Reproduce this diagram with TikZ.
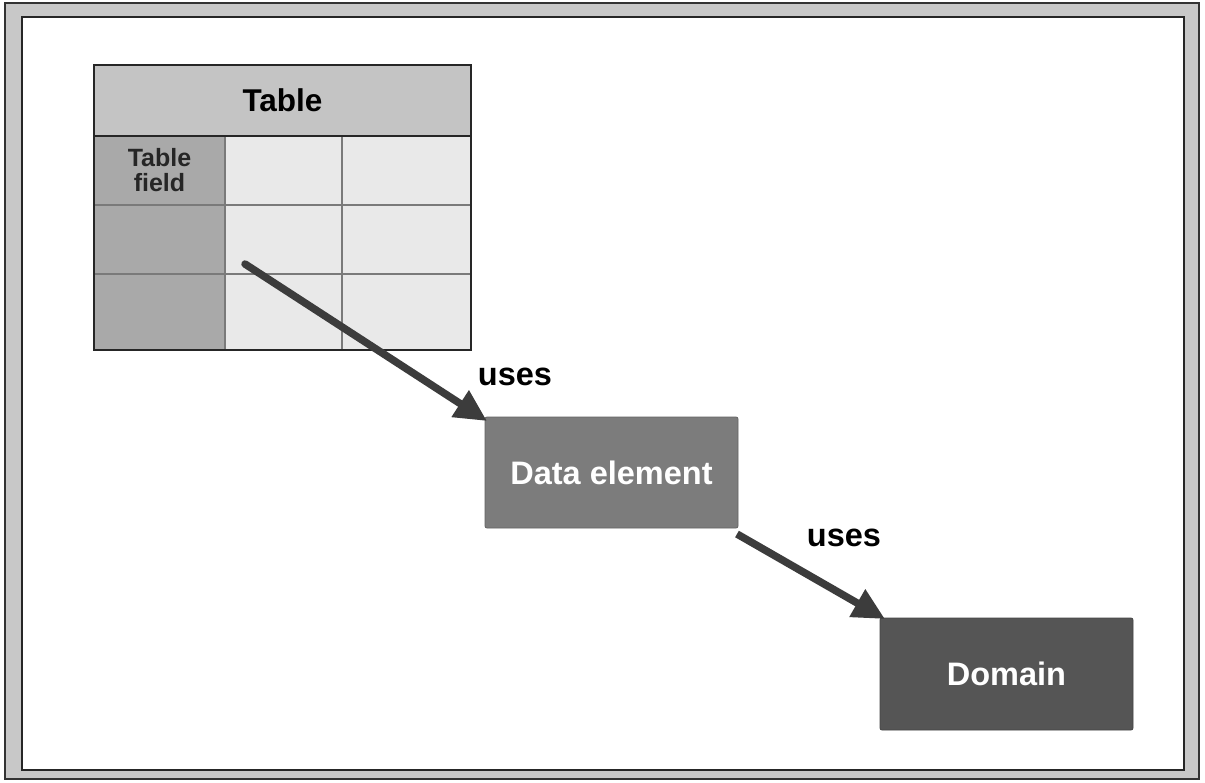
\documentclass[tikz,border=0pt]{standalone}
\usepackage{fontspec}
\setmainfont{Liberation Sans}
\usetikzlibrary{arrows.meta}
\definecolor{bandgray}{HTML}{C8C8C8}
\definecolor{hdrgray}{HTML}{C4C4C4}
\definecolor{fldgray}{HTML}{A9A9A9}
\definecolor{cellgray}{HTML}{E9E9E9}
\definecolor{gridgray}{HTML}{7A7A7A}
\definecolor{degray}{HTML}{7C7C7C}
\definecolor{domgray}{HTML}{555555}
\definecolor{arrgray}{HTML}{3C3C3C}
\tikzset{
  cellbox/.style={draw=gridgray, line width=1.2pt, inner sep=0pt, outer sep=0pt, anchor=north west},
  entitybox/.style={rounded corners=2pt, inner sep=0pt, outer sep=0pt, text=white,
    font=\fontsize{32.5}{36}\selectfont\bfseries},
  usesarrow/.style={draw=arrgray, line width=7.5pt, -{Triangle[length=32pt,width=30pt]}},
  useslabel/.style={font=\fontsize{32.5}{36}\selectfont\bfseries, text=black, inner sep=0pt}
}
\begin{document}
\begin{tikzpicture}[x=1pt,y=-1pt]
\useasboundingbox (0,0) rectangle (1205,782);
% frame
\fill[white] (0,0) rectangle (1205,782);
\filldraw[fill=bandgray, draw=black!80, line width=2pt] (5,3) rectangle (1199,779);
\filldraw[fill=white, draw=black!85, line width=2.5pt] (22,17) rectangle (1184,770);
% table
\node[cellbox, fill=hdrgray, minimum width=377pt, minimum height=71pt,
  font=\fontsize{31.5}{34}\selectfont\bfseries] (hdr) at (94,65) {Table};
\node[cellbox, fill=fldgray, minimum width=131pt, minimum height=69pt,
  font=\fontsize{25}{25}\selectfont\bfseries, align=center, text=black!85] (f1) at (94,136) {Table\\field};
\node[cellbox, fill=cellgray, minimum width=117pt, minimum height=69pt] (c12) at (225,136) {};
\node[cellbox, fill=cellgray, minimum width=129pt, minimum height=69pt] (c13) at (342,136) {};
\node[cellbox, fill=fldgray, minimum width=131pt, minimum height=69pt] (f2) at (94,205) {};
\node[cellbox, fill=cellgray, minimum width=117pt, minimum height=69pt] (c22) at (225,205) {};
\node[cellbox, fill=cellgray, minimum width=129pt, minimum height=69pt] (c23) at (342,205) {};
\node[cellbox, fill=fldgray, minimum width=131pt, minimum height=76pt] (f3) at (94,274) {};
\node[cellbox, fill=cellgray, minimum width=117pt, minimum height=76pt] (c32) at (225,274) {};
\node[cellbox, fill=cellgray, minimum width=129pt, minimum height=76pt] (c33) at (342,274) {};
\draw[black!85, line width=1.8pt] (94,65) rectangle (471,350);
\draw[black!85, line width=1.8pt] (94,136) -- (471,136);
% entities
\node[entitybox, fill=degray, draw=degray!80!black, line width=0.8pt,
  minimum width=253pt, minimum height=111pt] (de) at (611.5,472.5) {Data element};
\node[entitybox, fill=domgray, draw=domgray!80!black, line width=0.8pt,
  minimum width=253pt, minimum height=112pt] (dom) at (1006.5,674) {Domain};
% arrows
\coordinate (start) at (245,264);
\draw[usesarrow, line cap=round] (start) -- ([shift={(2pt,-4pt)}]de.north west);
\draw[usesarrow] ([shift={(-1pt,-6pt)}]de.south east) -- ([shift={(5pt,-1pt)}]dom.north west);
\node[useslabel] (u1) at (515,377) {uses};
\node[useslabel] (u2) at (844,538) {uses};
\end{tikzpicture}
\end{document}
